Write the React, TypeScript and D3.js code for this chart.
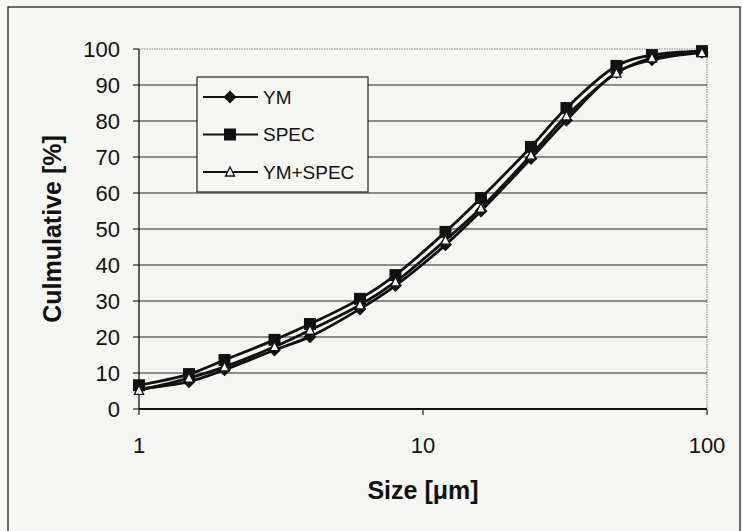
import * as d3 from "d3";

const sizes = [1, 1.5, 2, 3, 4, 6, 8, 12, 16, 24, 32, 48, 64, 96];
const ymValues = [5.6, 7.6, 10.9, 16.4, 20.1, 27.8, 34.3, 45.6, 55.0, 69.6, 80.2, 93.5, 97.0, 99.1];
const specValues = [6.6, 9.7, 13.6, 19.2, 23.6, 30.6, 37.2, 49.2, 58.6, 72.8, 83.6, 95.3, 98.3, 99.4];
const ymSpecValues = [5.2, 8.6, 11.7, 17.3, 21.9, 28.9, 35.3, 46.9, 55.8, 70.5, 81.4, 93.3, 97.5, 99.0];
const seriesNames = ["YM", "SPEC", "YM+SPEC"];
const yTicks = [0, 10, 20, 30, 40, 50, 60, 70, 80, 90, 100];
const xTicks = [1, 10, 100];

const W = 742;
const H = 531;
const BG = "#f6f6f2";
const FONT = "'Liberation Sans', Arial, sans-serif";
const MARGIN = { left: 139, top: 49, right: 35, bottom: 122 };

function Marker({ kind, x, y }: { kind: string; x: number; y: number }) {
  if (kind === "YM") {
    const s = 6.5;
    return (
      <path
        d={`M${x},${y - s}L${x + s},${y}L${x},${y + s}L${x - s},${y}Z`}
        fill="#111"
      />
    );
  }
  if (kind === "SPEC") {
    return <rect x={x - 6} y={y - 6} width={12} height={12} fill="#111" />;
  }
  return (
    <path
      d={`M${x},${y - 5}L${x + 4.5},${y + 4}L${x - 4.5},${y + 4}Z`}
      fill="#fff"
      stroke="#111"
      strokeWidth={1.3}
    />
  );
}

export default function App() {
  const boundsWidth = W - MARGIN.left - MARGIN.right;
  const boundsHeight = H - MARGIN.top - MARGIN.bottom;

  const xScale = d3.scaleLog().domain([1, 100]).range([0, boundsWidth]);
  const yScale = d3.scaleLinear().domain([0, 100]).range([boundsHeight, 0]);

  const line = d3
    .line<number>()
    .x((_, i) => xScale(sizes[i]))
    .y((v) => yScale(v))
    .curve(d3.curveCatmullRom);

  const series = [
    { name: seriesNames[0], values: ymValues },
    { name: seriesNames[1], values: specValues },
    { name: seriesNames[2], values: ymSpecValues },
  ];

  return (
    <svg
      width={W}
      height={H}
      style={{ position: "absolute", left: 0, top: 0, background: BG }}
      fontFamily={FONT}
    >
      <rect x={0} y={0} width={W} height={H} fill={BG} />
      {/* outer chart border */}
      <rect x={8} y={7} width={732} height={H + 10} fill="none" stroke="#222" strokeWidth={1.3} />

      <g transform={`translate(${MARGIN.left},${MARGIN.top})`}>
        {/* plot frame, top and right dotted */}
        <line x1={0} x2={boundsWidth} y1={0} y2={0} stroke="#888" strokeWidth={1.2} strokeDasharray="1.5 1" />
        <line x1={boundsWidth} x2={boundsWidth} y1={0} y2={boundsHeight} stroke="#888" strokeWidth={1.2} strokeDasharray="1.5 1" />

        {/* gridlines */}
        {yTicks
          .filter((t) => t > 0 && t < 100)
          .map((t) => (
            <line
              key={t}
              x1={0}
              x2={boundsWidth}
              y1={yScale(t)}
              y2={yScale(t)}
              stroke="#222"
              strokeWidth={1.1}
            />
          ))}

        {/* y axis */}
        <line x1={0} x2={0} y1={0} y2={boundsHeight} stroke="#222" strokeWidth={1.4} />
        {yTicks.map((t) => (
          <g key={t}>
            <line x1={-6} x2={0} y1={yScale(t)} y2={yScale(t)} stroke="#222" strokeWidth={1.2} />
            <text
              x={-19}
              y={yScale(t)}
              dy="0.36em"
              textAnchor="end"
              fontSize={22}
              fill="#111"
            >
              {t}
            </text>
          </g>
        ))}

        {/* x axis */}
        <line x1={0} x2={boundsWidth} y1={boundsHeight} y2={boundsHeight} stroke="#111" strokeWidth={2.2} />
        {xTicks.map((t) => (
          <g key={t}>
            <line
              x1={xScale(t)}
              x2={xScale(t)}
              y1={boundsHeight}
              y2={boundsHeight + 6}
              stroke="#222"
              strokeWidth={1.2}
            />
            <text
              x={xScale(t)}
              y={boundsHeight + 44}
              textAnchor="middle"
              fontSize={22}
              fill="#111"
            >
              {t}
            </text>
          </g>
        ))}

        {/* series */}
        {series.map((s) => (
          <path
            key={s.name}
            d={line(s.values) ?? ""}
            fill="none"
            stroke="#111"
            strokeWidth={2.8}
          />
        ))}
        {series.map((s) =>
          s.values.map((v, i) => (
            <Marker key={s.name + i} kind={s.name} x={xScale(sizes[i])} y={yScale(v)} />
          ))
        )}

        {/* axis titles */}
        <text
          x={xScale(10)}
          y={boundsHeight + 90}
          textAnchor="middle"
          fontSize={25}
          fontWeight="bold"
          fill="#111"
        >
          Size [μm]
        </text>
        <text
          transform={`translate(${52 - MARGIN.left},${boundsHeight / 2}) rotate(-90)`}
          textAnchor="middle"
          dy="0.36em"
          fontSize={25}
          fontWeight="bold"
          fill="#111"
        >
          Culmulative [%]
        </text>
      </g>

      {/* legend */}
      <g>
        <rect x={197} y={77} width={171} height={115} fill={BG} stroke="#222" strokeWidth={1.2} />
        {seriesNames.map((name, i) => {
          const y = 97 + i * 37.5;
          return (
            <g key={name}>
              <line x1={203} x2={258} y1={y} y2={y} stroke="#111" strokeWidth={2} />
              <Marker kind={name} x={230} y={y} />
              <text x={263} y={y} dy="0.36em" fontSize={19} fill="#111">
                {name}
              </text>
            </g>
          );
        })}
      </g>
    </svg>
  );
}
